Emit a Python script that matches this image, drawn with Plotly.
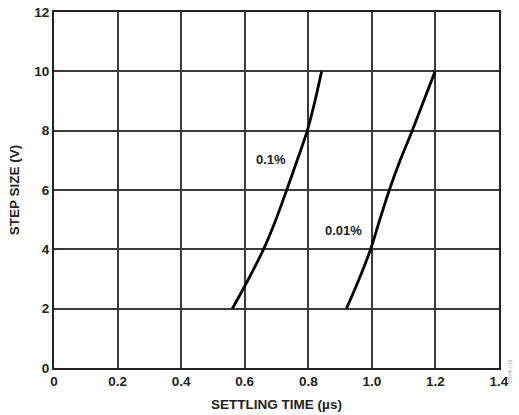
import plotly.graph_objects as go

# Settling time vs. output step size for two accuracy bands
step_size = [2, 3, 4, 5, 6, 7, 8, 9, 10]
settle_01 = [0.561, 0.612, 0.659, 0.698, 0.732, 0.765, 0.797, 0.821, 0.842]
settle_001 = [0.920, 0.960, 0.996, 1.025, 1.055, 1.089, 1.127, 1.163, 1.199]

x_ticks = [0, 0.2, 0.4, 0.6, 0.8, 1.0, 1.2, 1.4]
x_tick_text = ["0", "0.2", "0.4", "0.6", "0.8", "1.0", "1.2", "1.4"]
y_ticks = [0, 2, 4, 6, 8, 10, 12]

font_family = "Liberation Sans, Arial, sans-serif"

fig = go.Figure()
for xs in (settle_01, settle_001):
    fig.add_trace(go.Scatter(
        x=xs, y=step_size, mode="lines",
        line=dict(color="black", width=2.8, shape="spline", smoothing=0.8),
        showlegend=False, hoverinfo="skip",
    ))

fig.add_annotation(x=0.684, y=7.04, text="<b>0.1%</b>", showarrow=False,
                   font=dict(size=13, color="#222", family=font_family))
fig.add_annotation(x=0.912, y=4.65, text="<b>0.01%</b>", showarrow=False,
                   font=dict(size=13, color="#222", family=font_family))
fig.add_annotation(xref="paper", yref="paper", x=1.035, y=-0.05,
                   text="09046-014", textangle=-90, showarrow=False,
                   font=dict(size=5, color="#aaa", family=font_family))

fig.update_layout(
    width=519, height=415,
    margin=dict(l=54, r=20, t=12, b=47),
    paper_bgcolor="white", plot_bgcolor="white",
    font=dict(family=font_family, color="#222", size=13.5),
)
fig.update_xaxes(
    range=[0, 1.4], tickvals=x_ticks, ticktext=[f"<b>{t}</b>" for t in x_tick_text],
    showgrid=True, gridcolor="#3a3a3a", gridwidth=1.5,
    showline=True, linecolor="#222", linewidth=2, mirror=True,
    zeroline=False, ticks="", ticklen=0, automargin=False,
    title=dict(text="<b>SETTLING TIME (µs)</b>", standoff=11, font=dict(size=13.5)),
)
fig.update_yaxes(
    range=[0, 12], tickvals=y_ticks, ticktext=[f"<b>{t}</b>" for t in y_ticks],
    showgrid=True, gridcolor="#3a3a3a", gridwidth=1.5,
    showline=True, linecolor="#222", linewidth=2, mirror=True,
    zeroline=False, ticks="", ticklen=0, automargin=False,
    title=dict(text="<b>STEP SIZE (V)</b>", standoff=12, font=dict(size=13.5)),
)

fig.write_html("out.html")
